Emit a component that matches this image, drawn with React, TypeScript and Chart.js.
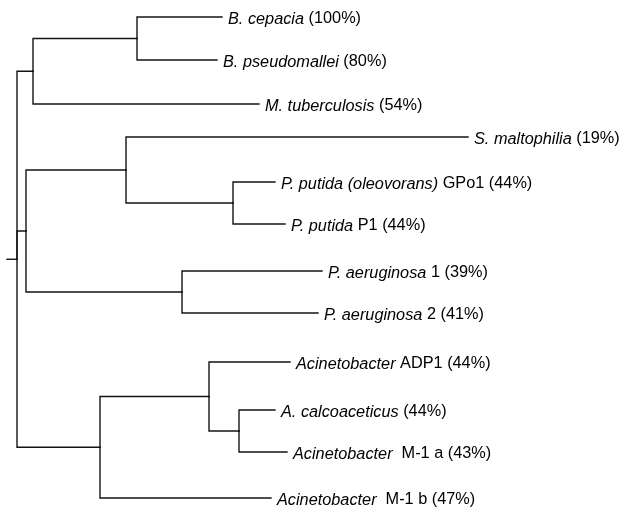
import React, { useEffect, useRef } from "react";
import { Chart, registerables } from "chart.js";

Chart.register(...registerables);

// Leaf labels: italic species part and upright strain / identity part
const leafItalic = [
  "B. cepacia",
  "B. pseudomallei",
  "M. tuberculosis",
  "S. maltophilia",
  "P. putida (oleovorans)",
  "P. putida",
  "P. aeruginosa",
  "P. aeruginosa",
  "Acinetobacter",
  "A. calcoaceticus",
  "Acinetobacter",
  "Acinetobacter",
];
const leafStrain = ["", "", "", "", " GPo1", " P1", " 1", " 2", " ADP1", "", "  M-1 a", "  M-1 b"];
const leafIdentity = [100, 80, 54, 19, 44, 44, 39, 41, 44, 44, 43, 47];
// tip distance (tree units along x) and row position (y)
const leafDepth = [222, 217, 259, 468, 275, 285, 322, 318, 290, 275, 287, 271];
const leafRow = [17, 60, 104, 137, 182, 224, 271, 313, 362, 410, 452, 498];
const leafParent = [2, 2, 1, 4, 5, 5, 6, 6, 8, 9, 9, 7];

// internal nodes
const nodeDepth = [17, 33, 137, 26, 126, 233, 182, 100, 209, 239];
const nodeParent = [-1, 0, 1, 0, 3, 4, 3, 0, 7, 8];
const rootStubDepth = 7;

function computeNodeRows(): number[] {
  const n = nodeDepth.length;
  const rows: number[] = new Array(n).fill(NaN);
  const childRows = (i: number): number[] => {
    const r: number[] = [];
    leafParent.forEach((p, li) => { if (p === i) r.push(leafRow[li]); });
    nodeParent.forEach((p, ni) => { if (p === i) r.push(getRow(ni)); });
    return r;
  };
  const getRow = (i: number): number => {
    if (!isNaN(rows[i])) return rows[i];
    const r = childRows(i);
    rows[i] = (Math.min(...r) + Math.max(...r)) / 2;
    return rows[i];
  };
  for (let i = 0; i < n; i++) getRow(i);
  return rows;
}

export default function App() {
  const ref = useRef<HTMLCanvasElement>(null);
  useEffect(() => {
    const nodeRow = computeNodeRows();
    const datasets: any[] = [];
    const edge = (px: number, py: number, cx: number, cy: number) => {
      datasets.push({
        data: [
          { x: px, y: py },
          { x: px, y: cy },
          { x: cx, y: cy },
        ],
        showLine: true,
        borderColor: "#141414",
        borderWidth: 1.4,
        pointRadius: 0,
        fill: false,
        tension: 0,
      });
    };
    leafParent.forEach((p, li) => edge(nodeDepth[p], nodeRow[p], leafDepth[li], leafRow[li]));
    nodeParent.forEach((p, ni) => {
      if (p >= 0) edge(nodeDepth[p], nodeRow[p], nodeDepth[ni], nodeRow[ni]);
    });
    edge(rootStubDepth, nodeRow[0], nodeDepth[0], nodeRow[0]);

    const labelPlugin = {
      id: "leafLabels",
      afterDatasetsDraw(chart: any) {
        const ctx = chart.ctx;
        const xs = chart.scales.x;
        const ys = chart.scales.y;
        ctx.save();
        ctx.fillStyle = "#000";
        ctx.textBaseline = "middle";
        leafItalic.forEach((name, i) => {
          let x = xs.getPixelForValue(leafDepth[i]) + 6;
          const y = ys.getPixelForValue(leafRow[i]) + 2;
          ctx.font = 'italic 16.3px "Liberation Sans", Arial, sans-serif';
          ctx.fillText(name, x, y);
          x += ctx.measureText(name).width;
          ctx.font = '16.3px "Liberation Sans", Arial, sans-serif';
          ctx.fillText(`${leafStrain[i]} (${leafIdentity[i]}%)`, x, y);
        });
        ctx.restore();
      },
    };

    const chart = new Chart(ref.current!, {
      type: "scatter",
      data: { datasets },
      options: {
        animation: false,
        responsive: false,
        devicePixelRatio: 1,
        layout: { padding: 0 },
        plugins: { legend: { display: false }, tooltip: { enabled: false } },
        scales: {
          x: { type: "linear", min: 0, max: 623, display: false },
          y: { type: "linear", min: 0, max: 508, reverse: true, display: false },
        },
        elements: { line: { borderCapStyle: "square" } },
      },
      plugins: [labelPlugin],
    });
    return () => chart.destroy();
  }, []);
  return (
    <div style={{ position: "fixed", left: 0, top: 0, width: 623, height: 508, background: "#fff" }}>
      <canvas ref={ref} width={623} height={508} />
    </div>
  );
}
